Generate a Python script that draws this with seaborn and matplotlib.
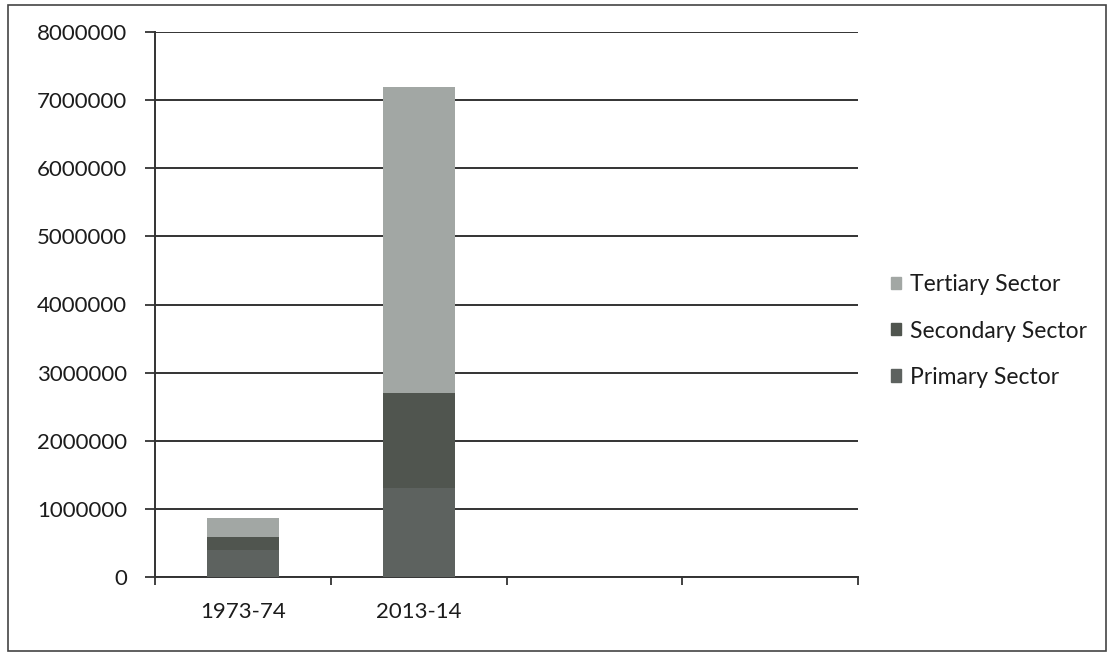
import matplotlib
matplotlib.use("Agg")
import matplotlib.pyplot as plt
import matplotlib.patches as mpatches
import seaborn as sns
import pandas as pd
import numpy as np

categories = ["1973-74", "2013-14", "", " "]
primary = [390000, 1300000, 0, 0]
secondary = [200000, 1400000, 0, 0]
tertiary = [280000, 4500000, 0, 0]
series_names = ["Primary Sector", "Secondary Sector", "Tertiary Sector"]
yticks = [0, 1000000, 2000000, 3000000, 4000000, 5000000, 6000000, 7000000, 8000000]

sns.set_style("white")
plt.rcParams['font.family'] = ['Lato', 'DejaVu Sans']

colors = ["#5d625f", "#50554f", "#a2a7a4"]
txt = "#1c1c1c"
fs = 16

fig = plt.figure(figsize=(11.12, 6.57), dpi=100)
ax = fig.add_axes([155/1112, 1-577/657, (858-155)/1112, (577-32)/657])

df = pd.DataFrame({"cat": categories, "p": primary, "s": secondary, "t": tertiary})
bottom0 = np.zeros(len(categories))
bottom1 = np.array(primary)
bottom2 = np.array(primary) + np.array(secondary)

sns.barplot(data=df, x="cat", y="p", order=categories, color=colors[0], width=0.41,
            bottom=bottom0, ax=ax, saturation=1, zorder=3, linewidth=0)
sns.barplot(data=df, x="cat", y="s", order=categories, color=colors[1], width=0.41,
            bottom=bottom1, ax=ax, saturation=1, zorder=3, linewidth=0)
sns.barplot(data=df, x="cat", y="t", order=categories, color=colors[2], width=0.41,
            bottom=bottom2, ax=ax, saturation=1, zorder=3, linewidth=0)

ax.set_xlim(-0.5, 3.5)
ax.set_ylim(0, 8000000)
ax.set_yticks(yticks)
ax.set_yticklabels([str(v) for v in yticks], fontsize=fs, color=txt)
ax.yaxis.grid(True, color="#333333", linewidth=1.4, zorder=0)
ax.set_axisbelow(True)

# category ticks at boundaries
ax.set_xticks(np.arange(len(categories)))
ax.set_xticklabels(categories, fontsize=fs, color=txt)
ax.tick_params(axis="x", which="major", length=0, pad=18)
ax.set_xticks(np.arange(-0.5, len(categories), 1), minor=True)
ax.tick_params(axis="x", which="minor", bottom=True, length=6, width=1.3,
               color="#333333", direction="out")
ax.tick_params(axis="y", left=True, length=7, width=1.3, color="#333333",
               direction="out", pad=13)
ax.set_xlabel("")
ax.set_ylabel("")

for s in ["top", "right"]:
    ax.spines[s].set_visible(False)
ax.spines["left"].set_color("#333333")
ax.spines["left"].set_linewidth(1.4)
ax.spines["bottom"].set_color("#333333")
ax.spines["bottom"].set_linewidth(1.4)

handles = [mpatches.Patch(color=colors[i]) for i in (2, 1, 0)]
labels = [series_names[i] for i in (2, 1, 0)]
fig.legend(handles, labels, loc="center left", bbox_to_anchor=(870/1112, 1-331/657),
           frameon=False, fontsize=fs + 0.5, handlelength=0.45, handleheight=0.45,
           handletextpad=0.4, labelspacing=1.1, labelcolor=txt)

fig.patches.append(mpatches.Rectangle((8/1112, 1-651/657), (1106-8)/1112, (651-5)/657,
                                      transform=fig.transFigure, fill=False,
                                      edgecolor="#444444", linewidth=1.2))

fig.savefig("out.png", dpi=100)
